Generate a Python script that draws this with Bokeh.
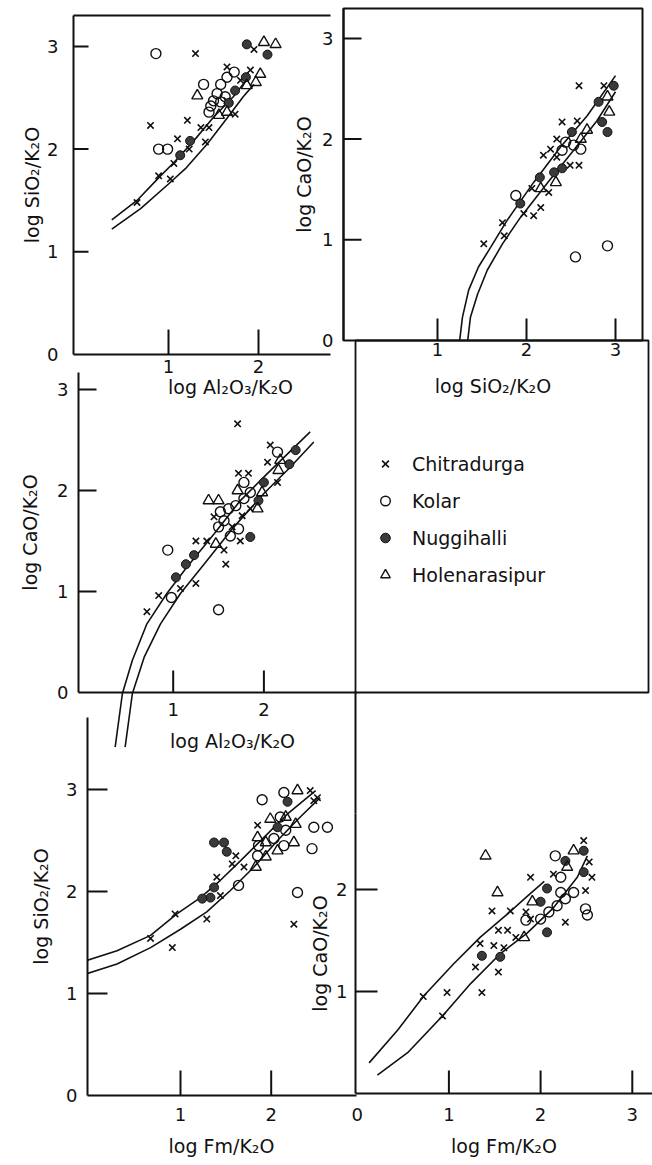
from bokeh.plotting import figure
from bokeh.models import Range1d, FixedTicker, LinearAxis, Legend, LegendItem
from bokeh.embed import file_html
from bokeh.resources import INLINE

# ---------------- data ----------------
SERIES = ["Chitradurga", "Kolar", "Nuggihalli", "Holenarasipur"]

# Panel 1: log SiO2/K2O vs log Al2O3/K2O
P1_CHI_X = [1.30, 1.95, 1.65, 1.91, 1.74, 0.80, 1.21, 1.36, 1.45, 1.41, 1.10, 1.23, 1.06, 0.89, 1.02, 0.65, 1.80, 1.65]
P1_CHI_Y = [2.93, 2.97, 2.80, 2.77, 2.34, 2.23, 2.28, 2.21, 2.21, 2.07, 2.10, 2.00, 1.86, 1.74, 1.71, 1.48, 2.67, 2.47]
P1_KOL_X = [0.86, 0.89, 0.99, 1.73, 1.65, 1.58, 1.39, 1.54, 1.50, 1.47, 1.45, 1.58, 1.63]
P1_KOL_Y = [2.93, 2.00, 2.00, 2.75, 2.70, 2.63, 2.63, 2.54, 2.47, 2.42, 2.36, 2.46, 2.51]
P1_NUG_X = [1.87, 2.10, 1.86, 1.74, 1.67, 1.24, 1.13]
P1_NUG_Y = [3.02, 2.92, 2.70, 2.57, 2.45, 2.08, 1.94]
P1_HOL_X = [2.06, 2.19, 1.32, 2.02, 1.87, 1.97, 1.56, 1.65]
P1_HOL_Y = [3.04, 3.02, 2.52, 2.73, 2.62, 2.65, 2.33, 2.36]
P1_UP_X = [0.37, 0.65, 0.89, 1.06, 1.28, 1.50, 1.72, 1.89]
P1_UP_Y = [1.31, 1.50, 1.72, 1.87, 2.08, 2.31, 2.51, 2.70]
P1_LO_X = [0.37, 0.69, 1.00, 1.20, 1.43, 1.65, 1.83, 1.95]
P1_LO_Y = [1.22, 1.42, 1.66, 1.82, 2.05, 2.30, 2.51, 2.63]
P1_XTICKS = [1, 2]
P1_YTICKS = [0, 1, 2, 3]

# Panel 2: log CaO/K2O vs log SiO2/K2O
P2_CHI_X = [2.59, 2.87, 2.40, 2.57, 2.34, 2.27, 2.19, 2.34, 2.49, 2.59, 2.06, 2.25, 1.97, 2.08, 2.16, 1.73, 1.75, 1.52]
P2_CHI_Y = [2.53, 2.53, 2.17, 2.18, 2.00, 1.90, 1.84, 1.82, 1.74, 1.74, 1.51, 1.47, 1.26, 1.24, 1.32, 1.17, 1.04, 0.96]
P2_KOL_X = [2.44, 2.53, 2.61, 2.40, 1.88, 2.55, 2.91]
P2_KOL_Y = [1.97, 1.94, 1.90, 1.89, 1.44, 0.83, 0.94]
P2_NUG_X = [2.98, 2.81, 2.85, 2.91, 2.51, 2.40, 2.31, 2.15, 1.93]
P2_NUG_Y = [2.53, 2.37, 2.17, 2.07, 2.07, 1.71, 1.67, 1.62, 1.36]
P2_HOL_X = [2.91, 2.93, 2.68, 2.61, 2.33, 2.16]
P2_HOL_Y = [2.42, 2.27, 2.09, 2.00, 1.57, 1.51]
P2_UP_X = [1.24, 1.28, 1.35, 1.46, 1.60, 1.78, 2.08, 2.38, 2.68, 3.00]
P2_UP_Y = [-0.07, 0.23, 0.50, 0.73, 0.93, 1.19, 1.57, 1.92, 2.23, 2.63]
P2_LO_X = [1.33, 1.37, 1.45, 1.56, 1.73, 1.93, 2.23, 2.53, 2.79, 3.00]
P2_LO_Y = [-0.07, 0.23, 0.46, 0.70, 0.96, 1.22, 1.56, 1.89, 2.18, 2.47]
P2_XTICKS = [1, 2, 3]
P2_YTICKS = [0, 1, 2, 3]

# Panel 3: log CaO/K2O vs log Al2O3/K2O
P3_CHI_X = [1.71, 2.07, 2.04, 2.15, 1.72, 1.83, 1.45, 1.76, 1.85, 1.65, 1.74, 1.25, 1.56, 1.58, 1.37, 0.71, 0.84, 1.25, 1.08]
P3_CHI_Y = [2.66, 2.45, 2.28, 2.08, 2.17, 2.17, 1.74, 1.75, 1.82, 1.64, 1.50, 1.50, 1.41, 1.27, 1.50, 0.80, 0.96, 1.08, 1.03]
P3_KOL_X = [2.15, 1.78, 1.85, 1.78, 1.69, 1.52, 1.61, 1.56, 1.50, 1.72, 1.63, 0.94, 1.50, 0.98]
P3_KOL_Y = [2.38, 2.08, 1.98, 1.92, 1.85, 1.79, 1.82, 1.70, 1.64, 1.62, 1.55, 1.41, 0.82, 0.94]
P3_NUG_X = [2.35, 2.28, 2.00, 1.94, 1.85, 1.23, 1.14, 1.03]
P3_NUG_Y = [2.40, 2.26, 2.08, 1.90, 1.54, 1.36, 1.27, 1.14]
P3_HOL_X = [2.18, 2.16, 1.71, 1.98, 1.93, 1.39, 1.50, 1.47]
P3_HOL_Y = [2.30, 2.20, 2.00, 1.98, 1.82, 1.90, 1.90, 1.47]
P3_UP_X = [0.36, 0.44, 0.55, 0.71, 0.93, 1.15, 1.45, 1.74, 2.04, 2.51]
P3_UP_Y = [-0.54, -0.01, 0.32, 0.68, 0.98, 1.24, 1.57, 1.90, 2.17, 2.58]
P3_LO_X = [0.47, 0.55, 0.68, 0.86, 1.08, 1.34, 1.67, 2.00, 2.29, 2.55]
P3_LO_Y = [-0.54, -0.01, 0.35, 0.68, 0.98, 1.27, 1.64, 1.97, 2.23, 2.48]
P3_XTICKS = [1, 2]
P3_YTICKS = [0, 1, 2, 3]

# Panel 5: log SiO2/K2O vs log Fm/K2O
P5_CHI_X = [2.43, 2.51, 2.47, 1.85, 1.61, 1.57, 1.70, 1.40, 1.44, 0.94, 1.29, 2.25, 0.67, 0.91]
P5_CHI_Y = [2.99, 2.92, 2.89, 2.65, 2.35, 2.27, 2.24, 2.14, 1.96, 1.78, 1.73, 1.68, 1.54, 1.45]
P5_KOL_X = [1.90, 2.14, 2.10, 2.16, 2.03, 1.86, 2.14, 1.85, 2.47, 2.62, 2.45, 2.29, 1.64]
P5_KOL_Y = [2.90, 2.97, 2.73, 2.60, 2.52, 2.45, 2.45, 2.35, 2.63, 2.63, 2.42, 1.99, 2.06]
P5_NUG_X = [2.18, 2.07, 1.37, 1.48, 1.51, 1.37, 1.33, 1.24]
P5_NUG_Y = [2.88, 2.63, 2.48, 2.48, 2.39, 2.04, 1.94, 1.93]
P5_HOL_X = [2.29, 1.99, 2.16, 2.27, 1.85, 1.94, 2.25, 2.07, 1.94, 1.83]
P5_HOL_Y = [2.99, 2.71, 2.73, 2.66, 2.53, 2.48, 2.48, 2.40, 2.34, 2.24]
P5_UP_X = [-0.05, 0.30, 0.67, 0.96, 1.22, 1.44, 1.66, 1.92, 2.18, 2.49]
P5_UP_Y = [1.32, 1.42, 1.57, 1.78, 1.94, 2.11, 2.30, 2.53, 2.76, 2.99]
P5_LO_X = [-0.05, 0.30, 0.67, 1.00, 1.29, 1.55, 1.81, 2.07, 2.32, 2.54]
P5_LO_Y = [1.19, 1.29, 1.45, 1.63, 1.80, 2.01, 2.24, 2.50, 2.73, 2.92]
P5_XTICKS = [1, 2]
P5_YTICKS = [0, 1, 2, 3]

# Panel 6: log CaO/K2O vs log Fm/K2O
P6_CHI_X = [1.47, 1.89, 1.67, 1.54, 1.64, 1.73, 1.34, 1.49, 1.60, 1.29, 1.54, 1.84, 1.89, 2.47, 2.53, 2.56, 2.49, 2.27, 2.14, 0.72, 0.98, 0.93, 1.36]
P6_CHI_Y = [1.79, 2.12, 1.79, 1.60, 1.60, 1.53, 1.47, 1.45, 1.43, 1.24, 1.19, 1.78, 1.71, 2.48, 2.27, 2.12, 1.99, 1.68, 2.15, 0.95, 0.99, 0.76, 0.99]
P6_KOL_X = [1.84, 2.00, 2.09, 2.18, 2.27, 2.36, 2.22, 2.49, 2.51, 2.22, 2.16]
P6_KOL_Y = [1.70, 1.71, 1.78, 1.84, 1.91, 1.97, 1.97, 1.81, 1.75, 2.12, 2.33]
P6_NUG_X = [2.27, 2.07, 2.00, 2.07, 2.47, 2.47, 1.36, 1.56]
P6_NUG_Y = [2.28, 2.01, 1.88, 1.58, 2.38, 2.17, 1.35, 1.34]
P6_HOL_X = [1.40, 1.53, 1.82, 1.91, 2.36, 2.29]
P6_HOL_Y = [2.33, 1.97, 1.53, 1.88, 2.38, 2.22]
P6_UP_X = [0.13, 0.44, 0.73, 1.05, 1.34, 1.64, 1.85, 2.04]
P6_UP_Y = [0.30, 0.62, 0.96, 1.27, 1.53, 1.76, 1.93, 2.08]
P6_LO_X = [0.22, 0.55, 0.93, 1.24, 1.56, 1.85, 2.14, 2.40, 2.51]
P6_LO_Y = [0.18, 0.40, 0.76, 1.08, 1.37, 1.57, 1.82, 2.12, 2.33]
P6_XTICKS = [0, 1, 2, 3]
P6_YTICKS = [1, 2]

# ---------------- styling / layout ----------------
W, H = 652, 1165
FONT = "DejaVu Sans"
INK = "#111111"
PIN = {"position": "absolute", "left": "0px", "top": "0px"}

STYLE = {
    "Chitradurga": dict(marker="x", size=9, line_color=INK, line_width=1.6),
    "Kolar": dict(marker="circle", size=10, fill_color=None, line_color=INK, line_width=1.4),
    "Nuggihalli": dict(marker="circle", size=9, fill_color="#3a3a3a", line_color=INK, line_width=1.0),
    "Holenarasipur": dict(marker="triangle", size=11, fill_color=None, line_color=INK, line_width=1.4),
}


def make_fig(L, T, R, B, x0px=None, ux=1.0, y0px=None, uy=1.0, opaque=False):
    """Full-page figure whose frame sits at L..R x T..B pixels."""
    x0px = L if x0px is None else x0px
    y0px = B if y0px is None else y0px
    xr = Range1d((L - x0px) / ux, (R - x0px) / ux)
    yr = Range1d((y0px - B) / uy, (y0px - T) / uy)
    p = figure(width=W, height=H, x_range=xr, y_range=yr, title=None,
               output_backend="svg", toolbar_location=None,
               x_axis_type=None, y_axis_type=None,
               frame_width=R - L, frame_height=B - T,
               min_border_left=L, min_border_right=W - R,
               min_border_top=T, min_border_bottom=H - B,
               styles=PIN)
    p.outline_line_color = None
    if opaque:
        p.background_fill_color = "white"
        p.border_fill_color = "white"
    else:
        p.background_fill_alpha = 0
        p.border_fill_alpha = 0
    return p


def label_axis(p, side, ticks, label, lab_off, title_off, rule=True, bounds=None):
    """Axis carrying the tick labels and the axis title."""
    ax = LinearAxis(ticker=FixedTicker(ticks=ticks), axis_label=label)
    ax.axis_label_text_font = FONT
    ax.axis_label_text_font_size = "19px"
    ax.axis_label_text_font_style = "normal"
    ax.axis_label_text_color = INK
    ax.major_label_text_font = FONT
    ax.major_label_text_font_size = "18px"
    ax.major_label_text_color = INK
    ax.major_tick_in = 0
    ax.major_tick_out = 0
    ax.major_tick_line_color = None
    ax.minor_tick_line_color = None
    ax.axis_line_width = 2
    ax.axis_line_color = INK if rule else None
    ax.major_label_standoff = lab_off
    ax.axis_label_standoff = title_off
    if bounds is not None:
        ax.bounds = bounds
    p.add_layout(ax, side)
    return ax


def inward_ticks(p, xticks, xlen, yticks, ylen):
    """Inward tick marks drawn as short segments at the tick values (lengths in px)."""
    ux = p.frame_width / (p.x_range.end - p.x_range.start)
    uy = p.frame_height / (p.y_range.end - p.y_range.start)
    x_axis = p.x_range.start
    xt = [t for t in xticks if t > x_axis + 0.05]
    yt = [t for t in yticks if t > p.y_range.start + 0.05]
    if xt:
        p.segment(x0=xt, y0=[0] * len(xt), x1=xt, y1=[xlen / uy] * len(xt),
                  line_color=INK, line_width=2)
    if yt:
        p.segment(x0=[x_axis] * len(yt), y0=yt, x1=[x_axis + ylen / ux] * len(yt), y1=yt,
                  line_color=INK, line_width=2)


def rule_fig(L, R, y):
    """Horizontal axis line at page row y from L to R (an 'above' axis rule)."""
    f = make_fig(L, y, R, y + 20)
    ax = LinearAxis(ticker=FixedTicker(ticks=[]), axis_line_width=2, axis_line_color=INK,
                    major_tick_line_color=None, minor_tick_line_color=None)
    f.add_layout(ax, "above")
    return f


def add_series(p, xs_ys):
    rends = {}
    for name, (xs, ys) in zip(SERIES, xs_ys):
        rends[name] = p.scatter(xs, ys, **STYLE[name])
    return rends


def add_curves(p, curves):
    for xs, ys in curves:
        p.line(xs, ys, line_color=INK, line_width=1.6)


SIO2 = "log SiO\u2082/K\u2082O"
CAO = "log CaO/K\u2082O"
AL2O3 = "log Al\u2082O\u2083/K\u2082O"
FM = "log Fm/K\u2082O"

figs = []

# Panel 1 (bottom of the stack, opaque white page)
p1 = make_fig(73, 15, 387, 354, 78, 90.0, 354, 102.7, opaque=True)
P1_XEND = (330 - 78) / 90.0
label_axis(p1, "below", P1_XTICKS, AL2O3, 5, 0, rule=False)
label_axis(p1, "left", P1_YTICKS, SIO2, 15, 1)
label_axis(p1, "above", [], "", 0, 0, bounds=(p1.x_range.start, P1_XEND))
inward_ticks(p1, P1_XTICKS, 25, P1_YTICKS, 15)
add_curves(p1, [(P1_UP_X, P1_UP_Y), (P1_LO_X, P1_LO_Y)])
add_series(p1, [(P1_CHI_X, P1_CHI_Y), (P1_KOL_X, P1_KOL_Y), (P1_NUG_X, P1_NUG_Y), (P1_HOL_X, P1_HOL_Y)])
figs.append(p1)
figs.append(rule_fig(73, 330, 354))

# Panel 2
p2 = make_fig(343, 8, 642, 340, 348, 89.0, 340, 100.7)
p2.outline_line_color = INK
p2.outline_line_width = 2
label_axis(p2, "below", P2_XTICKS, SIO2, 2, 16, rule=False)
label_axis(p2, "left", P2_YTICKS, CAO, 10, 4)
inward_ticks(p2, P2_XTICKS, 22, P2_YTICKS, 18)
add_curves(p2, [(P2_UP_X, P2_UP_Y), (P2_LO_X, P2_LO_Y)])
add_series(p2, [(P2_CHI_X, P2_CHI_Y), (P2_KOL_X, P2_KOL_Y), (P2_NUG_X, P2_NUG_Y), (P2_HOL_X, P2_HOL_Y)])
figs.append(p2)

# Legend box (middle right)
box = make_fig(355, 340, 648, 692)
box.outline_line_color = INK
box.outline_line_width = 1.8
figs.append(box)

# connector line between legend box and panel 6 axis
conn = make_fig(355, 692, 648, 813)
label_axis(conn, "left", [], "", 0, 0)
figs.append(conn)

# Panel 3: axes figure + glyph figure (curves run below the x axis)
p3a = make_fig(78, 372, 386, 692, 82, 90.7, 692, 101.0)
label_axis(p3a, "below", P3_XTICKS, AL2O3, 10, 11, rule=False)
label_axis(p3a, "left", P3_YTICKS, CAO, 10, 13)
inward_ticks(p3a, P3_XTICKS, 22, P3_YTICKS, 18)
figs.append(p3a)
figs.append(rule_fig(78, 356, 692))

p3 = make_fig(78, 372, 650, 747, 82, 90.7, 692, 101.0)
add_curves(p3, [(P3_UP_X, P3_UP_Y), (P3_LO_X, P3_LO_Y)])
r3 = add_series(p3, [(P3_CHI_X, P3_CHI_Y), (P3_KOL_X, P3_KOL_Y), (P3_NUG_X, P3_NUG_Y), (P3_HOL_X, P3_HOL_Y)])
legend = Legend(items=[LegendItem(label=n, renderers=[r3[n]]) for n in SERIES],
                location=(295, 154), orientation="vertical",
                glyph_width=24, glyph_height=37, label_height=37, spacing=0,
                padding=0, margin=0, label_standoff=15,
                label_text_font=FONT, label_text_font_size="19px", label_text_color=INK,
                border_line_color=None, background_fill_alpha=0)
p3.add_layout(legend)
figs.append(p3)

# Panel 5
p5 = make_fig(87, 717, 355, 1095, 89.3, 90.7, 1095, 102.0)
label_axis(p5, "below", P5_XTICKS, FM, 12, 11, rule=False)
label_axis(p5, "left", P5_YTICKS, SIO2, 10, 11)
inward_ticks(p5, P5_XTICKS, 25, P5_YTICKS, 20)
add_curves(p5, [(P5_UP_X, P5_UP_Y), (P5_LO_X, P5_LO_Y)])
add_series(p5, [(P5_CHI_X, P5_CHI_Y), (P5_KOL_X, P5_KOL_Y), (P5_NUG_X, P5_NUG_Y), (P5_HOL_X, P5_HOL_Y)])
figs.append(p5)
figs.append(rule_fig(87, 356, 1095))

# Panel 6
p6 = make_fig(355, 813, 652, 1093, 356.7, 91.7, 1093, 102.0)
label_axis(p6, "below", P6_XTICKS, FM, 14, 11, rule=False)
label_axis(p6, "left", P6_YTICKS, CAO, 8, 2)
inward_ticks(p6, P6_XTICKS, 23, P6_YTICKS, 22)
add_curves(p6, [(P6_UP_X, P6_UP_Y), (P6_LO_X, P6_LO_Y)])
add_series(p6, [(P6_CHI_X, P6_CHI_Y), (P6_KOL_X, P6_KOL_Y), (P6_NUG_X, P6_NUG_Y), (P6_HOL_X, P6_HOL_Y)])
figs.append(p6)
figs.append(rule_fig(355, 652, 1093))

# each panel is its own root, all pinned to the page's top-left so they overlay
open("out.html", "w").write(file_html(figs, INLINE))
